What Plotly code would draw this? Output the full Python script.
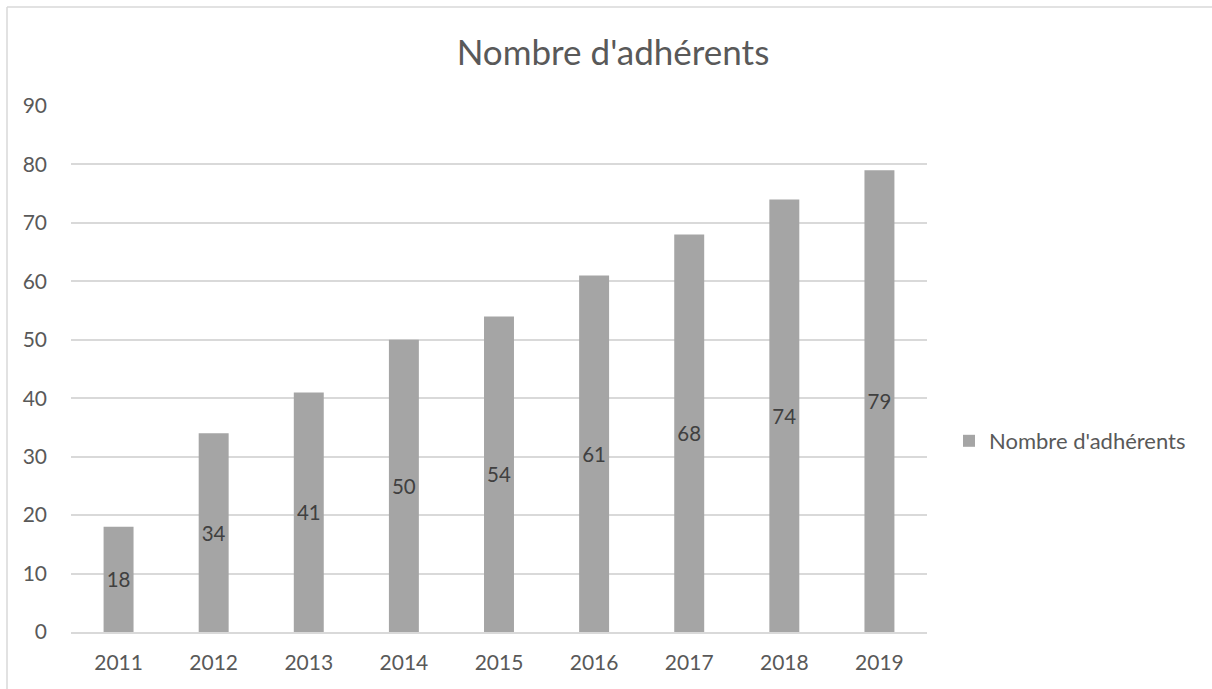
import plotly.graph_objects as go

years = ["2011", "2012", "2013", "2014", "2015", "2016", "2017", "2018", "2019"]
members = [18, 34, 41, 50, 54, 61, 68, 74, 79]
series_name = "Nombre d'adhérents"
title_text = "Nombre d'adhérents"

W, H = 1212, 689
L, R, T, B = 71, 927, 106, 632
pw, ph = R - L, B - T

font_family = "Lato, 'Open Sans', sans-serif"

fig = go.Figure()
fig.add_trace(go.Bar(
    x=years, y=members, name=series_name,
    marker=dict(color="#A5A5A5", line=dict(width=0)),
    width=0.315,
    text=[str(v) for v in members],
    textposition="inside", insidetextanchor="middle",
    textfont=dict(color="#404040", size=22, family=font_family),
    textangle=0,
    showlegend=True,
))

fig.update_layout(
    width=W, height=H,
    margin=dict(l=L, r=W - R, t=T, b=H - B),
    paper_bgcolor="white", plot_bgcolor="white",
    font=dict(family=font_family, color="#595959", size=22),
    title=dict(text=title_text, x=613 / W, xanchor="center", y=1 - 53 / H, yanchor="middle",
               font=dict(size=35, color="#595959", family=font_family)),
    xaxis=dict(showgrid=False, showline=True, linecolor="#D9D9D9", linewidth=1.5,
               ticks="", tickfont=dict(size=21, color="#595959"), ticklabelstandoff=11),
    yaxis=dict(range=[0, 90], dtick=10, showgrid=True, gridcolor="#D9D9D9", gridwidth=1.5,
               zeroline=False, showline=False, ticks="", tickfont=dict(size=21, color="#595959"),
               ticklabelstandoff=23),
    legend=dict(x=(949 - L) / pw, y=1 - (441 - T) / ph, xanchor="left", yanchor="middle",
                font=dict(size=22, color="#595959"), bgcolor="rgba(0,0,0,0)",
                itemwidth=30, tracegroupgap=0),
    uniformtext=dict(minsize=10, mode="show"),
    shapes=[
        dict(type="line", xref="paper", yref="paper",
             x0=(7 - L) / pw, x1=(7 - L) / pw, y0=1 + (T - 7) / ph, y1=1 - (H + 5 - T) / ph,
             line=dict(color="#D9D9D9", width=1.5)),
        dict(type="line", xref="paper", yref="paper",
             x0=(7 - L) / pw, x1=(W + 5 - L) / pw, y0=1 + (T - 7) / ph, y1=1 + (T - 7) / ph,
             line=dict(color="#D9D9D9", width=1.5)),
    ],
)

fig.write_html("out.html", config={"displayModeBar": False},
               post_script="document.body.style.margin='0';document.body.style.overflow='hidden';")
